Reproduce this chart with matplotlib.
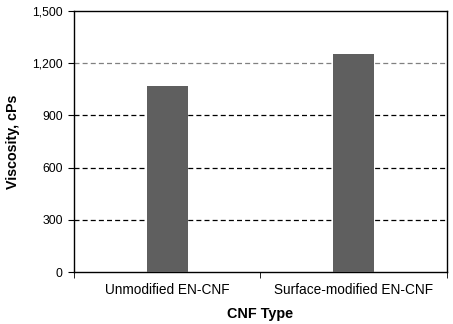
import matplotlib.pyplot as plt
from matplotlib.ticker import FuncFormatter

categories = ['Unmodified EN-CNF', 'Surface-modified EN-CNF']
viscosity = [1070, 1255]
yticks = [0, 300, 600, 900, 1200, 1500]

plt.rcParams['font.family'] = ['Liberation Sans', 'DejaVu Sans']

fig = plt.figure(figsize=(4.53, 3.24), dpi=100)
ax = fig.add_axes([0.163, 0.160, 0.824, 0.806])

x = list(range(len(categories)))
ax.bar(x, viscosity, width=0.22, color='#5f5f5f', zorder=3)

ax.set_xlim(-0.5, len(categories) - 0.5)
ax.set_ylim(0, 1500)
ax.set_yticks(yticks)
ax.yaxis.set_major_formatter(FuncFormatter(lambda v, p: f'{int(v):,}'))

for v in yticks[1:-1]:
    c = '#808080' if v == 1200 else 'black'
    ax.axhline(v, color=c, linestyle=(0, (4, 2.5)), linewidth=0.9, zorder=1)

ax.set_xticks(x)
ax.set_xticklabels(categories)
ax.set_xticks([-0.5, 0.5, 1.5], minor=True)
ax.tick_params(axis='x', which='major', length=0, pad=8, labelsize=9.8)
ax.tick_params(axis='x', which='minor', length=4, direction='out')
ax.tick_params(axis='y', length=4, direction='out', labelsize=8.8, pad=4)

for s in ax.spines.values():
    s.set_linewidth(1.0)

ax.set_ylabel('Viscosity, cPs', fontsize=10.3, fontweight='bold', labelpad=9)
ax.set_xlabel('CNF Type', fontsize=10.4, fontweight='bold', labelpad=7)

fig.savefig('out.png', dpi=100)
